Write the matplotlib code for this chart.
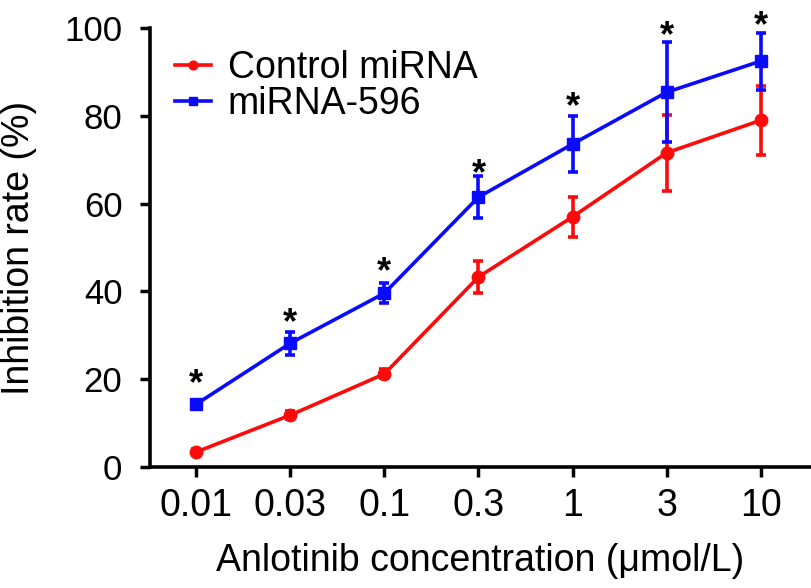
import matplotlib
matplotlib.use("Agg")
import matplotlib.pyplot as plt

# ── data ─────────────────────────────────────────────────────────────────────
concentrations = ["0.01", "0.03", "0.1", "0.3", "1", "3", "10"]
control_mean = [3.4, 11.8, 21.2, 43.3, 57.0, 71.6, 79.0]
control_err = [0.6, 1.0, 1.0, 3.6, 4.6, 8.7, 7.9]
mir596_mean = [14.3, 28.2, 39.6, 61.5, 73.6, 85.4, 92.5]
mir596_err = [1.0, 2.6, 2.3, 4.8, 6.4, 11.4, 6.5]
star_y = [21.4, 35.3, 46.9, 69.2, 84.5, 100.7, 103.0]  # centre of the "*" marks

RED = "#ff0a0a"
BLUE = "#0a0aff"

plt.rcParams["font.family"] = ["Liberation Sans", "DejaVu Sans"]

fig = plt.figure(figsize=(8.12, 5.88), dpi=100)
ax = fig.add_axes([0.185, 0.206, 0.812, 0.746])

x = list(range(len(concentrations)))

for mean, err, col, mk, lab, z in [
    (control_mean, control_err, RED, "o", "Control miRNA", 3),
    (mir596_mean, mir596_err, BLUE, "s", "miRNA-596", 4),
]:
    ax.errorbar(x, mean, yerr=err, fmt="none", ecolor=col, elinewidth=2.6,
                capsize=3.5, capthick=2.6, clip_on=False, zorder=z)
    ax.plot(x, mean, color=col, marker=mk, ms=9, lw=2.6, label=lab,
            clip_on=False, zorder=z)

STAR_FS = 26
for xi, sy in zip(x, star_y):
    ax.annotate("*", (xi, sy), xytext=(0, -0.59 * STAR_FS), textcoords="offset points",
                ha="center", va="baseline", fontsize=STAR_FS, fontweight="bold",
                color="black", annotation_clip=False)

ax.set_xlim(-0.49, 6.52)
ax.set_ylim(0, 100)
ax.set_xticks(x)
ax.set_xticklabels(concentrations, fontsize=27)
ax.set_yticks([0, 20, 40, 60, 80, 100])
ax.set_yticklabels(["0", "20", "40", "60", "80", "100"], fontsize=25)
ax.tick_params(width=2.5, length=7, direction="out")
ax.tick_params(axis="x", pad=8)
ax.tick_params(axis="y", pad=13)

for side in ("top", "right"):
    ax.spines[side].set_visible(False)
for side in ("left", "bottom"):
    ax.spines[side].set_linewidth(2.6)

ax.set_ylabel("Inhibition rate (%)", fontsize=27, labelpad=20)
ax.set_xlabel("Anlotinib concentration (μmol/L)", fontsize=27, labelpad=14)

leg = ax.legend(loc="upper left", bbox_to_anchor=(0.015, 0.985), frameon=False,
                fontsize=27, handlelength=0.95, handletextpad=0.45,
                labelspacing=0.0, borderaxespad=0.0, markerscale=0.7)

fig.savefig("out.png", dpi=100)
